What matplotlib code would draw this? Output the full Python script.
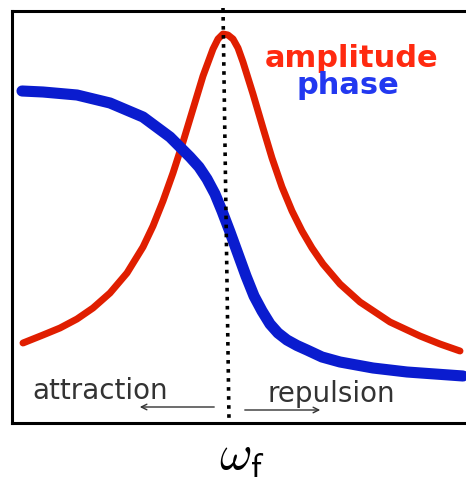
import matplotlib
matplotlib.use('Agg')
import matplotlib.pyplot as plt

plt.rcParams['mathtext.fontset'] = 'cm'

# driving frequency (arbitrary units, left edge of box = 0)
freq_amp = [11, 31, 48, 65, 81, 98, 115, 131, 141, 151, 161, 171, 181, 191, 201, 206,
            211, 216, 221, 226, 231, 241, 251, 260, 270, 280, 290, 300, 311, 328, 348,
            378, 408, 428, 448]
amplitude = [80, 88, 95, 104, 115, 130, 150, 176, 197, 222, 250, 281, 314, 347, 374, 384,
             389, 388, 384, 375, 361, 329, 295, 265, 236, 212, 192, 175, 159, 139, 121,
             101, 87, 79, 72]

freq_phase = [10, 31, 65, 98, 131, 158, 178, 187, 195, 203, 210, 218, 226, 234, 242,
              250, 258, 266, 275, 285, 295, 310, 328, 361, 395, 451]
phase = [332, 331, 328, 320, 306, 286, 266, 256, 244, 229, 212, 191, 169, 147, 127,
         112, 99, 90, 83, 77.5, 73, 66, 61, 55, 51, 47]

# resonance marker (slightly slanted in the original)
res_x = [211, 217]
res_y = [415, 3]

fig = plt.figure(figsize=(4.66, 4.79), dpi=100)
ax = fig.add_axes([12 / 466, 56 / 479, 456 / 466, 412 / 479])

ax.plot(freq_amp, amplitude, color='#e01e00', lw=5,
        solid_capstyle='round', solid_joinstyle='round')
ax.plot(freq_phase, phase, color='#0a1ccf', lw=8,
        solid_capstyle='round', solid_joinstyle='round')
ax.plot(res_x, res_y, color='black', lw=2.6, linestyle=(0, (1, 1.5)), clip_on=False)

ax.text(340, 356, 'amplitude', color='#ff2a10', fontsize=22, fontweight='bold', ha='center')
ax.text(336, 329, 'phase', color='#2238f0', fontsize=22, fontweight='bold', ha='center')

ax.text(20, 24, 'attraction', color='#333333', fontsize=20, ha='left')
ax.text(256, 21, 'repulsion', color='#333333', fontsize=20, ha='left')
ax.annotate('', xy=(125, 16), xytext=(205, 16),
            arrowprops=dict(arrowstyle='->', color='#333333', lw=1))
ax.annotate('', xy=(311, 13), xytext=(230, 13),
            arrowprops=dict(arrowstyle='->', color='#333333', lw=1))

ax.set_xlim(0, 456)
ax.set_ylim(0, 412)
ax.set_xticks([])
ax.set_yticks([])
for s in ax.spines.values():
    s.set_linewidth(2.2)

fig.text(242 / 466, 1 - 456 / 479, r'$\omega_{\mathsf{f}}$', fontsize=36,
         ha='center', va='center')

fig.savefig('out.png', dpi=100)
